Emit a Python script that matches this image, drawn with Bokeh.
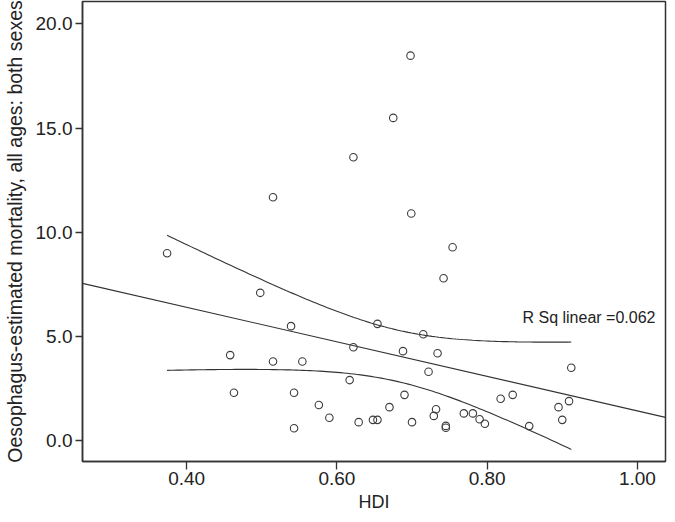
import numpy as np
from bokeh.plotting import figure
from bokeh.models import Range1d, FixedTicker, NumeralTickFormatter, ColumnDataSource
from bokeh.core.properties import value
from bokeh.embed import file_html
from bokeh.resources import INLINE

# Data
hdi = [0.374, 0.458, 0.463, 0.498, 0.515, 0.515, 0.539, 0.543, 0.543, 0.554,
       0.576, 0.590, 0.617, 0.622, 0.622, 0.629, 0.648, 0.654, 0.654, 0.670,
       0.675, 0.688, 0.690, 0.698, 0.699, 0.700, 0.715, 0.722, 0.729, 0.732,
       0.734, 0.742, 0.745, 0.745, 0.754, 0.769, 0.781, 0.790, 0.797, 0.818,
       0.834, 0.856, 0.895, 0.900, 0.909, 0.912]
mortality = [8.99, 4.10, 2.29, 7.09, 11.68, 3.79, 5.49, 2.29, 0.59, 3.79,
             1.70, 1.09, 2.90, 13.60, 4.48, 0.88, 0.99, 0.99, 5.60, 1.60,
             15.49, 4.29, 2.19, 18.48, 10.90, 0.88, 5.10, 3.30, 1.18, 1.50,
             4.19, 7.79, 0.70, 0.61, 9.28, 1.30, 1.30, 1.02, 0.80, 2.00,
             2.19, 0.69, 1.60, 0.99, 1.89, 3.49]
x_ticks = [0.40, 0.60, 0.80, 1.00]
y_ticks = [0.0, 5.0, 10.0, 15.0, 20.0]
r_sq_text = "R Sq linear =0.062"
r_sq_pos = (0.847, 5.92)

FONT = "Liberation Sans"
INK = "#222222"
LINE = "#333333"

x = np.array(hdi)
y = np.array(mortality)
n = len(x)
b1, b0 = np.polyfit(x, y, 1)
resid = y - (b0 + b1 * x)
s = np.sqrt(np.sum(resid ** 2) / (n - 2))
xbar = x.mean()
sxx = np.sum((x - xbar) ** 2)
tcrit = 2.0154  # t(0.975, df=44)

x_lo, x_hi = 0.2614, 1.0374
p = figure(width=667, height=514, output_backend="svg", toolbar_location=None,
           x_range=Range1d(x_lo, x_hi), y_range=Range1d(-1.01, 21.08),
           min_border_left=0, min_border_right=2, min_border_top=1, min_border_bottom=0)

p.xgrid.visible = False
p.ygrid.visible = False
p.outline_line_color = LINE
p.outline_line_width = 1.5
p.background_fill_color = "white"
p.border_fill_color = "white"

# regression line across the whole frame
xl = np.array([x_lo, x_hi])
p.line(xl, b0 + b1 * xl, line_color=LINE, line_width=1.1)

# 95% mean confidence bands over the data range
xs = np.linspace(x.min(), x.max(), 120)
se = s * np.sqrt(1.0 / n + (xs - xbar) ** 2 / sxx)
yh = b0 + b1 * xs
p.line(xs, yh + tcrit * se, line_color=LINE, line_width=1.1)
p.line(xs, yh - tcrit * se, line_color=LINE, line_width=1.1)

src = ColumnDataSource(dict(x=hdi, y=mortality))
p.scatter("x", "y", source=src, size=7.5, fill_color=None, line_color="#3c3c3c", line_width=1.1)

p.text(x=[r_sq_pos[0]], y=[r_sq_pos[1]], text=[r_sq_text], text_font=value(FONT),
       text_font_size="16px", text_color=INK, text_baseline="middle", text_align="left")

for ax in (p.xaxis[0], p.yaxis[0]):
    ax.axis_line_color = LINE
    ax.axis_line_width = 1.5
    ax.major_tick_line_color = LINE
    ax.major_tick_line_width = 1.3
    ax.major_tick_in = 0
    ax.minor_tick_line_color = None
    ax.major_label_text_font = FONT
    ax.major_label_text_color = INK
    ax.axis_label_text_font = FONT
    ax.axis_label_text_font_style = "normal"
    ax.axis_label_text_color = INK

p.xaxis.ticker = FixedTicker(ticks=x_ticks)
p.xaxis.formatter = NumeralTickFormatter(format="0.00")
p.xaxis.axis_label = "HDI"
p.xaxis.major_tick_out = 8
p.xaxis.major_label_standoff = 2
p.xaxis.major_label_text_font_size = "19px"
p.xaxis.axis_label_text_font_size = "18px"
p.xaxis.axis_label_standoff = 4

p.yaxis.ticker = FixedTicker(ticks=y_ticks)
p.yaxis.formatter = NumeralTickFormatter(format="0.0")
p.yaxis.axis_label = "Oesophagus-estimated mortality, all ages: both sexes"
p.yaxis.major_tick_out = 7
p.yaxis.major_label_standoff = 3
p.yaxis.major_label_text_font_size = "19px"
p.yaxis.axis_label_text_font_size = "19.5px"
p.yaxis.axis_label_standoff = 7

open("out.html", "w").write(file_html(p, INLINE))
